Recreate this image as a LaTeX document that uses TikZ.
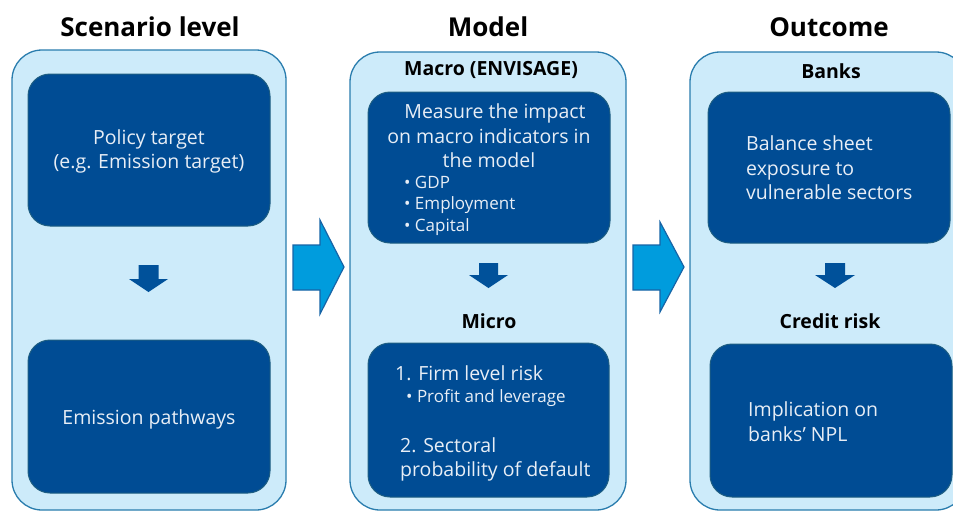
\documentclass[tikz,border=0pt]{standalone}
\usepackage{fontspec}
\setmainfont{Open Sans}
\begin{document}
\begin{tikzpicture}[x=1pt,y=-1pt,
  outerbox/.style={draw=bordblue, line width=1.3pt, fill=lightfill, rounded corners=30pt, inner sep=0pt},
  innerbox/.style={draw=innerbord, line width=1pt, fill=darkfill, rounded corners=22pt, inner sep=0pt},
  title/.style={font=\fontsize{26}{30}\selectfont\bfseries, text=black, inner sep=0pt},
  subhead/.style={font=\fontsize{19.5}{22}\selectfont\bfseries, text=black, inner sep=0pt},
  body/.style={font=\fontsize{19.5}{24.5}\selectfont, text=txtwhite, inner sep=0pt},
  bullet/.style={font=\fontsize{17}{21.5}\selectfont, text=txtwhite, inner sep=0pt},
  downarrow/.style={fill=downblue, draw=none},
  bigarrow/.style={fill=arrowfill, draw=arrowbord, line width=1.2pt, line join=miter}
]
\definecolor{lightfill}{HTML}{CDEBFA}
\definecolor{bordblue}{HTML}{2A7DAE}
\definecolor{darkfill}{HTML}{004C94}
\definecolor{innerbord}{HTML}{1E5E82}
\definecolor{txtwhite}{HTML}{E8EEF6}
\definecolor{downblue}{HTML}{00519A}
\definecolor{arrowfill}{HTML}{009CDD}
\definecolor{arrowbord}{HTML}{1764A6}
\useasboundingbox (0,0) rectangle (953,512);
\clip (0,0) rectangle (953,512);
\fill[white] (0,0) rectangle (953,512);

% titles
\node[title] (t1) at (150,27) {Scenario level};
\node[title] (t2) at (488,27) {Model};
\node[title] (t3) at (829,27) {Outcome};

% outer panels
\node[outerbox, minimum width=274pt, minimum height=460pt] (p1) at (149,280) {};
\node[outerbox, minimum width=276pt, minimum height=458pt] (p2) at (488,281) {};
\node[outerbox, minimum width=276pt, minimum height=458pt] (p3) at (828,281) {};

% inner boxes
\node[innerbox, minimum width=242pt, minimum height=152pt] (a1) at (149,150) {};
\node[innerbox, minimum width=242pt, minimum height=153pt] (a2) at (149,416.5) {};
\node[innerbox, minimum width=242pt, minimum height=151pt] (b1) at (489,167.5) {};
\node[innerbox, minimum width=241pt, minimum height=154pt] (b2) at (488.5,420) {};
\node[innerbox, minimum width=242pt, minimum height=151pt] (c1) at (829,167.5) {};
\node[innerbox, minimum width=242pt, minimum height=153pt] (c2) at (831,420.5) {};

% subheadings
\node[subhead] (s1) at (491,70) {Macro (ENVISAGE)};
\node[subhead] (s2) at (831,71) {Banks};
\node[subhead] (s3) at (489,321) {Micro};
\node[subhead] (s4) at (830,321) {Credit risk};

% texts panel 1
\node[body, align=center] (a1t) at (149,151.5) {Policy target\\(e.g. Emission target)};
\node[body] (a2t) at (149,419) {Emission pathways};

% texts panel 2
\node[body, align=center] (b1t) at (489,136) {\hspace*{12pt}Measure the impact\\on macro indicators in\\the model};
\node[bullet, align=left, anchor=west] (b1b) at (404,205.5) {• GDP\\• Employment\\• Capital};
\node[body, anchor=base west] (b2t1) at (395,380) {1. Firm level risk};
\node[bullet, anchor=base west] (b2t2) at (406,402) {• Profit and leverage};
\node[body, anchor=base west, align=left] (b2t3) at (400,452) {2. Sectoral};
\node[body, anchor=base west, align=left] (b2t4) at (400,476.5) {probability of default};

% texts panel 3
\node[body, anchor=base west] (c1t1) at (746,150.5) {Balance sheet};
\node[body, anchor=base west] (c1t2) at (746,175) {exposure to};
\node[body, anchor=base west] (c1t3) at (746,199.5) {vulnerable sectors};
\node[body, anchor=base west] (c2t1) at (748,416.5) {Implication on};
\node[body, anchor=base west] (c2t2) at (748,441) {banks’ NPL};

% down arrows
\fill[downarrow] (138.5,265) -- (158.5,265) -- (158.5,279) -- (168,279) -- (148.5,292) -- (129,279) -- (138.5,279) -- cycle;
\fill[downarrow] (479,263) -- (498,263) -- (498,275) -- (508,275) -- (488.5,288) -- (469,275) -- (479,275) -- cycle;
\fill[downarrow] (825,263) -- (845,263) -- (845,275) -- (855,275) -- (835,288) -- (815,275) -- (825,275) -- cycle;

% big arrows
\draw[bigarrow] (293,245) -- (320,245) -- (320,220) -- (344,267) -- (320,314) -- (320,290) -- (293,290) -- cycle;
\draw[bigarrow] (633,245) -- (660,245) -- (660,222) -- (684,267) -- (660,312) -- (660,290) -- (633,290) -- cycle;
\end{tikzpicture}
\end{document}
